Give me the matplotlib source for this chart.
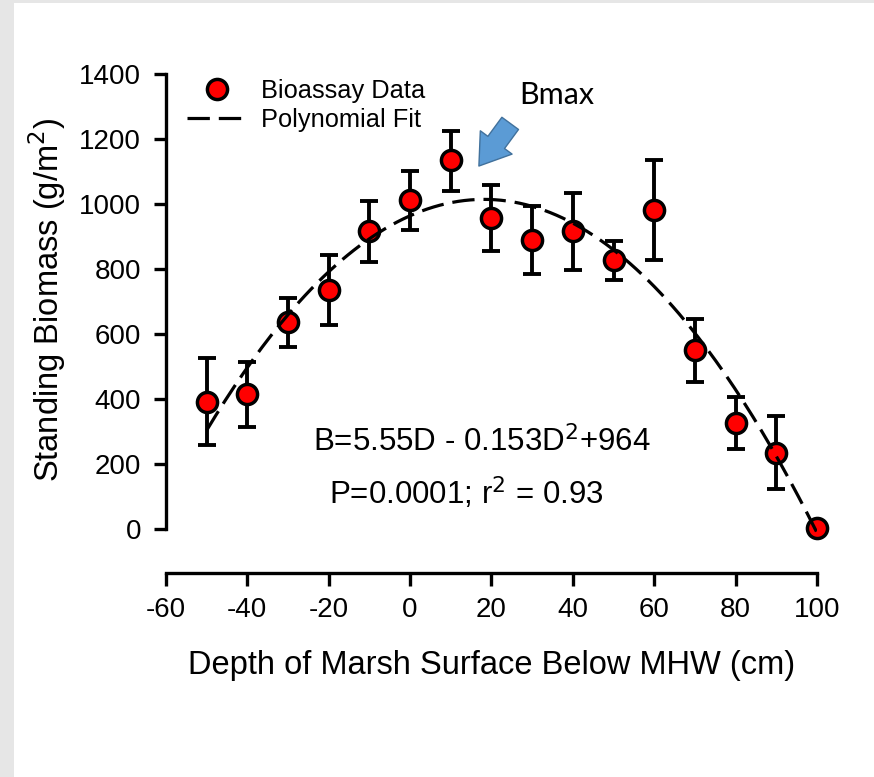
import numpy as np
import matplotlib.pyplot as plt
from matplotlib.patches import Rectangle

plt.rcParams['font.family'] = ['Liberation Sans', 'DejaVu Sans']
plt.rcParams['axes.unicode_minus'] = False

# Bioassay data
depth = [-50, -40, -30, -20, -10, 0, 10, 20, 30, 40, 50, 60, 70, 80, 90, 100]
biomass = [390, 415, 638, 735, 917, 1012, 1135, 957, 889, 917, 828, 982, 551, 326, 234, 3]
err_hi = [135, 100, 72, 108, 92, 90, 90, 101, 105, 117, 58, 153, 95, 80, 114, 0]
err_lo = [132, 101, 77, 107, 95, 92, 95, 102, 104, 120, 62, 154, 99, 80, 111, 0]

# Polynomial fit coefficients (from the figure's equation)
c0, c1, c2 = 964, 5.55, -0.153

fig = plt.figure(figsize=(8.74, 7.77), dpi=100, facecolor='#e6e6e6')
fig.patches.append(Rectangle((14 / 874, 0), 1, 1 - 3 / 777, transform=fig.transFigure,
                             facecolor='white', edgecolor='none', zorder=-10))

ax = fig.add_axes([166 / 874, 204 / 777, 651 / 874, 499 / 777])
ax.set_facecolor('none')

# error bars and points
ax.errorbar(depth, biomass, yerr=[err_lo, err_hi], fmt='none', ecolor='black',
            elinewidth=2.8, capsize=6.2, capthick=2.8, zorder=2)
pts, = ax.plot(depth, biomass, 'o', color='red', markeredgecolor='black',
               markersize=14.5, markeredgewidth=2.5, zorder=3, clip_on=False)

# fit curve (drawn on top of the points, as in the original)
d = np.linspace(-50, 100, 200)
fit_line, = ax.plot(d, c0 + c1 * d + c2 * d ** 2, color='black', lw=2.3,
                    linestyle=(0, (7, 2.8)), zorder=4)

ax.set_xlim(-60, 100)
ax.set_ylim(-135, 1400)
ax.set_xticks(range(-60, 101, 20))
ax.set_yticks(range(0, 1401, 200))

for s in ['top', 'right']:
    ax.spines[s].set_visible(False)
ax.spines['left'].set_bounds(0, 1400)
ax.spines['left'].set_linewidth(2.4)
ax.spines['bottom'].set_linewidth(2.4)
ax.tick_params(axis='both', direction='out', length=9, width=2.4, labelsize=20)
ax.tick_params(axis='y', pad=9)
ax.tick_params(axis='x', pad=8)

ax.set_xlabel('Depth of Marsh Surface Below MHW (cm)', fontsize=23.5)
ax.set_ylabel('Standing Biomass (g/m$^2$)', fontsize=23.5)
ax.xaxis.set_label_coords(0.5, -0.154)
ax.yaxis.set_label_coords(-0.15, 0.547)

ax.legend([pts, fit_line], ['Bioassay Data', 'Polynomial Fit'], loc='upper left',
          bbox_to_anchor=(0.032, 0.99), frameon=False, fontsize=18.3,
          handlelength=2.4, handletextpad=0.5, labelspacing=0.2,
          borderaxespad=0, borderpad=0)

ax.text(0.485, 0.262, 'B=5.55D - 0.153D$^2$+964', transform=ax.transAxes,
        ha='center', va='center', fontsize=22.5)
ax.text(0.461, 0.160, 'P=0.0001; r$^2$ = 0.93', transform=ax.transAxes,
        ha='center', va='center', fontsize=22.5)

ax.text(0.6, 0.958, 'Bmax', transform=ax.transAxes, ha='center', va='center',
        fontsize=22, family=['Lato', 'DejaVu Sans'])
ax.annotate('', xy=(16.5, 1110), xytext=(25, 1255),
            arrowprops=dict(arrowstyle='simple,head_width=1.05,head_length=0.78,tail_width=0.55',
                            mutation_scale=27, facecolor='#5b9bd5', edgecolor='#41719c', lw=1))

fig.savefig('out.png', dpi=100, facecolor=fig.get_facecolor())
